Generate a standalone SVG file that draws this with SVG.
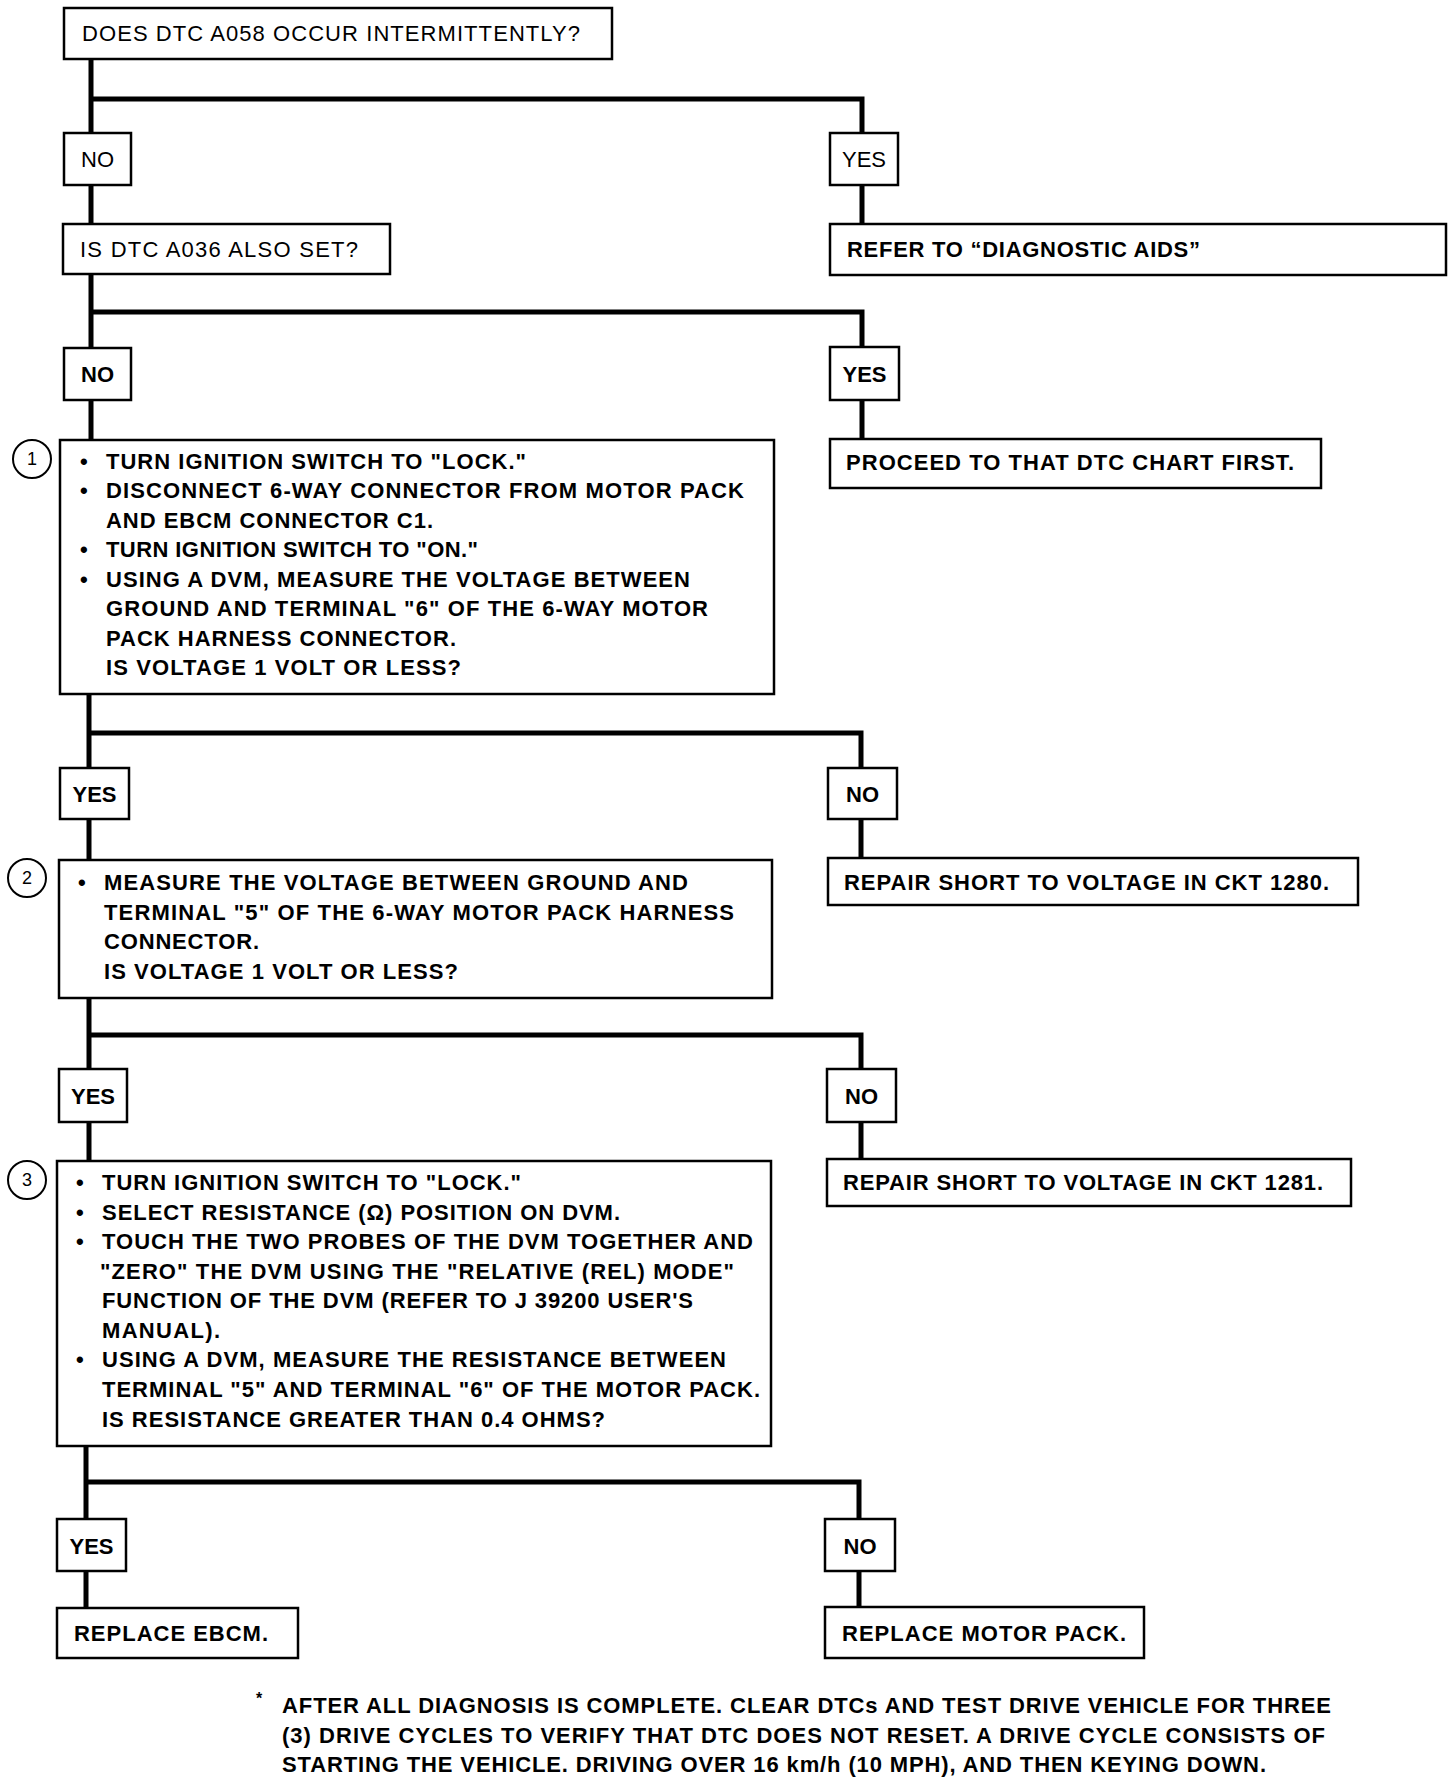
<svg xmlns="http://www.w3.org/2000/svg" width="1456" height="1778" viewBox="0 0 1456 1778">
<style>
.bx{fill:#fff;stroke:#000;stroke-width:2.5}
.cn{fill:none;stroke:#000;stroke-width:5;stroke-linecap:square}
text{font-family:"Liberation Sans",Arial,sans-serif;font-size:22px;fill:#000}
.b{font-weight:bold}
.c{text-anchor:middle}
.num{font-size:18px;text-anchor:middle}
.cir{fill:#fff;stroke:#000;stroke-width:2}
</style>
<rect width="1456" height="1778" fill="#fff"/>
<g id="connectors">
<path class="cn" d="M91,59 V133 M91,99 H862 V133 M91,185 V224 M862,185 V224"/>
<path class="cn" d="M91,274 V348 M91,312 H862 V347 M91,400 V440 M862,400 V439"/>
<path class="cn" d="M89,694 V768 M89,733 H861 V768 M89,819 V860 M861,819 V858"/>
<path class="cn" d="M89,998 V1069 M89,1035 H861 V1069 M89,1122 V1161 M861,1122 V1159"/>
<path class="cn" d="M86,1446 V1519 M86,1482 H859 V1519 M86,1571 V1608 M859,1571 V1607"/>
</g>
<g id="q1">
<rect class="bx" x="64" y="8" width="548" height="51"/>
<text x="82" y="41" textLength="498" lengthAdjust="spacing">DOES DTC A058 OCCUR INTERMITTENTLY?</text>
</g>
<g id="no1"><rect class="bx" x="64" y="133" width="67" height="52"/><text class="c" x="97.5" y="167">NO</text></g>
<g id="yes1"><rect class="bx" x="830" y="133" width="68" height="52"/><text class="c" x="864" y="167">YES</text></g>
<g id="q2">
<rect class="bx" x="63" y="224" width="327" height="50"/>
<text x="80" y="257" textLength="278" lengthAdjust="spacing">IS DTC A036 ALSO SET?</text>
</g>
<g id="refer">
<rect class="bx" x="830" y="224" width="616" height="51"/>
<text class="b" x="847" y="257" textLength="353" lengthAdjust="spacing">REFER TO “DIAGNOSTIC AIDS”</text>
</g>
<g id="no2"><rect class="bx" x="64" y="348" width="67" height="52"/><text class="c b" x="97.5" y="382">NO</text></g>
<g id="yes2"><rect class="bx" x="830" y="347" width="69" height="53"/><text class="c b" x="864.5" y="382">YES</text></g>
<g id="step1">
<rect class="bx" x="60" y="440" width="714" height="254"/>
<circle class="cir" cx="32" cy="459" r="19"/><text class="num" x="32" y="465">1</text>
<g class="b">
<text x="80" y="469">•</text><text x="106" y="469" textLength="420" lengthAdjust="spacing">TURN IGNITION SWITCH TO "LOCK."</text>
<text x="80" y="498">•</text><text x="106" y="498" textLength="638" lengthAdjust="spacing">DISCONNECT 6-WAY CONNECTOR FROM MOTOR PACK</text>
<text x="106" y="528" textLength="327" lengthAdjust="spacing">AND EBCM CONNECTOR C1.</text>
<text x="80" y="557">•</text><text x="106" y="557" textLength="372" lengthAdjust="spacing">TURN IGNITION SWITCH TO "ON."</text>
<text x="80" y="587">•</text><text x="106" y="587" textLength="584" lengthAdjust="spacing">USING A DVM, MEASURE THE VOLTAGE BETWEEN</text>
<text x="106" y="616" textLength="602" lengthAdjust="spacing">GROUND AND TERMINAL "6" OF THE 6-WAY MOTOR</text>
<text x="106" y="646" textLength="350" lengthAdjust="spacing">PACK HARNESS CONNECTOR.</text>
<text x="106" y="675" textLength="355" lengthAdjust="spacing">IS VOLTAGE 1 VOLT OR LESS?</text>
</g>
</g>
<g id="proceed">
<rect class="bx" x="830" y="439" width="491" height="49"/>
<text class="b" x="846" y="470" textLength="448" lengthAdjust="spacing">PROCEED TO THAT DTC CHART FIRST.</text>
</g>
<g id="yes3"><rect class="bx" x="60" y="768" width="69" height="51"/><text class="c b" x="94.5" y="802">YES</text></g>
<g id="no3"><rect class="bx" x="828" y="768" width="69" height="51"/><text class="c b" x="862.5" y="802">NO</text></g>
<g id="step2">
<rect class="bx" x="59" y="860" width="713" height="138"/>
<circle class="cir" cx="27" cy="878" r="19"/><text class="num" x="27" y="884">2</text>
<g class="b">
<text x="78" y="890">•</text><text x="104" y="890" textLength="584" lengthAdjust="spacing">MEASURE THE VOLTAGE BETWEEN GROUND AND</text>
<text x="104" y="920" textLength="630" lengthAdjust="spacing">TERMINAL "5" OF THE 6-WAY MOTOR PACK HARNESS</text>
<text x="104" y="949" textLength="155" lengthAdjust="spacing">CONNECTOR.</text>
<text x="104" y="979" textLength="354" lengthAdjust="spacing">IS VOLTAGE 1 VOLT OR LESS?</text>
</g>
</g>
<g id="repair1280">
<rect class="bx" x="828" y="858" width="530" height="47"/>
<text class="b" x="844" y="890" textLength="485" lengthAdjust="spacing">REPAIR SHORT TO VOLTAGE IN CKT 1280.</text>
</g>
<g id="yes4"><rect class="bx" x="59" y="1069" width="68" height="53"/><text class="c b" x="93" y="1104">YES</text></g>
<g id="no4"><rect class="bx" x="827" y="1069" width="69" height="53"/><text class="c b" x="861.5" y="1104">NO</text></g>
<g id="step3">
<rect class="bx" x="57" y="1161" width="714" height="285"/>
<circle class="cir" cx="27" cy="1180" r="19"/><text class="num" x="27" y="1186">3</text>
<g class="b">
<text x="76" y="1190">•</text><text x="102" y="1190" textLength="419" lengthAdjust="spacing">TURN IGNITION SWITCH TO "LOCK."</text>
<text x="76" y="1220">•</text><text x="102" y="1220" textLength="518" lengthAdjust="spacing">SELECT RESISTANCE (Ω) POSITION ON DVM.</text>
<text x="76" y="1249">•</text><text x="102" y="1249" textLength="651" lengthAdjust="spacing">TOUCH THE TWO PROBES OF THE DVM TOGETHER AND</text>
<text x="100" y="1279" textLength="634" lengthAdjust="spacing">"ZERO" THE DVM USING THE "RELATIVE (REL) MODE"</text>
<text x="102" y="1308" textLength="591" lengthAdjust="spacing">FUNCTION OF THE DVM (REFER TO J 39200 USER'S</text>
<text x="102" y="1338" textLength="118" lengthAdjust="spacing">MANUAL).</text>
<text x="76" y="1367">•</text><text x="102" y="1367" textLength="624" lengthAdjust="spacing">USING A DVM, MEASURE THE RESISTANCE BETWEEN</text>
<text x="102" y="1397" textLength="658" lengthAdjust="spacing">TERMINAL "5" AND TERMINAL "6" OF THE MOTOR PACK.</text>
<text x="102" y="1427" textLength="503" lengthAdjust="spacing">IS RESISTANCE GREATER THAN 0.4 OHMS?</text>
</g>
</g>
<g id="repair1281">
<rect class="bx" x="827" y="1159" width="524" height="47"/>
<text class="b" x="843" y="1190" textLength="480" lengthAdjust="spacing">REPAIR SHORT TO VOLTAGE IN CKT 1281.</text>
</g>
<g id="yes5"><rect class="bx" x="57" y="1519" width="69" height="52"/><text class="c b" x="91.5" y="1554">YES</text></g>
<g id="no5"><rect class="bx" x="825" y="1519" width="70" height="52"/><text class="c b" x="860" y="1554">NO</text></g>
<g id="ebcm">
<rect class="bx" x="57" y="1608" width="241" height="50"/>
<text class="b" x="74" y="1641" textLength="194" lengthAdjust="spacing">REPLACE EBCM.</text>
</g>
<g id="motorpack">
<rect class="bx" x="825" y="1607" width="319" height="51"/>
<text class="b" x="842" y="1641" textLength="284" lengthAdjust="spacing">REPLACE MOTOR PACK.</text>
</g>
<g id="footnote" class="b">
<text x="256" y="1704" style="font-size:16px">*</text>
<text x="282" y="1713" textLength="1049" lengthAdjust="spacing">AFTER ALL DIAGNOSIS IS COMPLETE. CLEAR DTCs AND TEST DRIVE VEHICLE FOR THREE</text>
<text x="282" y="1743" textLength="1043" lengthAdjust="spacing">(3) DRIVE CYCLES TO VERIFY THAT DTC DOES NOT RESET.  A DRIVE CYCLE CONSISTS OF</text>
<text x="282" y="1772" textLength="984" lengthAdjust="spacing">STARTING THE VEHICLE. DRIVING OVER 16 km/h (10 MPH), AND THEN KEYING DOWN.</text>
</g>
</svg>
